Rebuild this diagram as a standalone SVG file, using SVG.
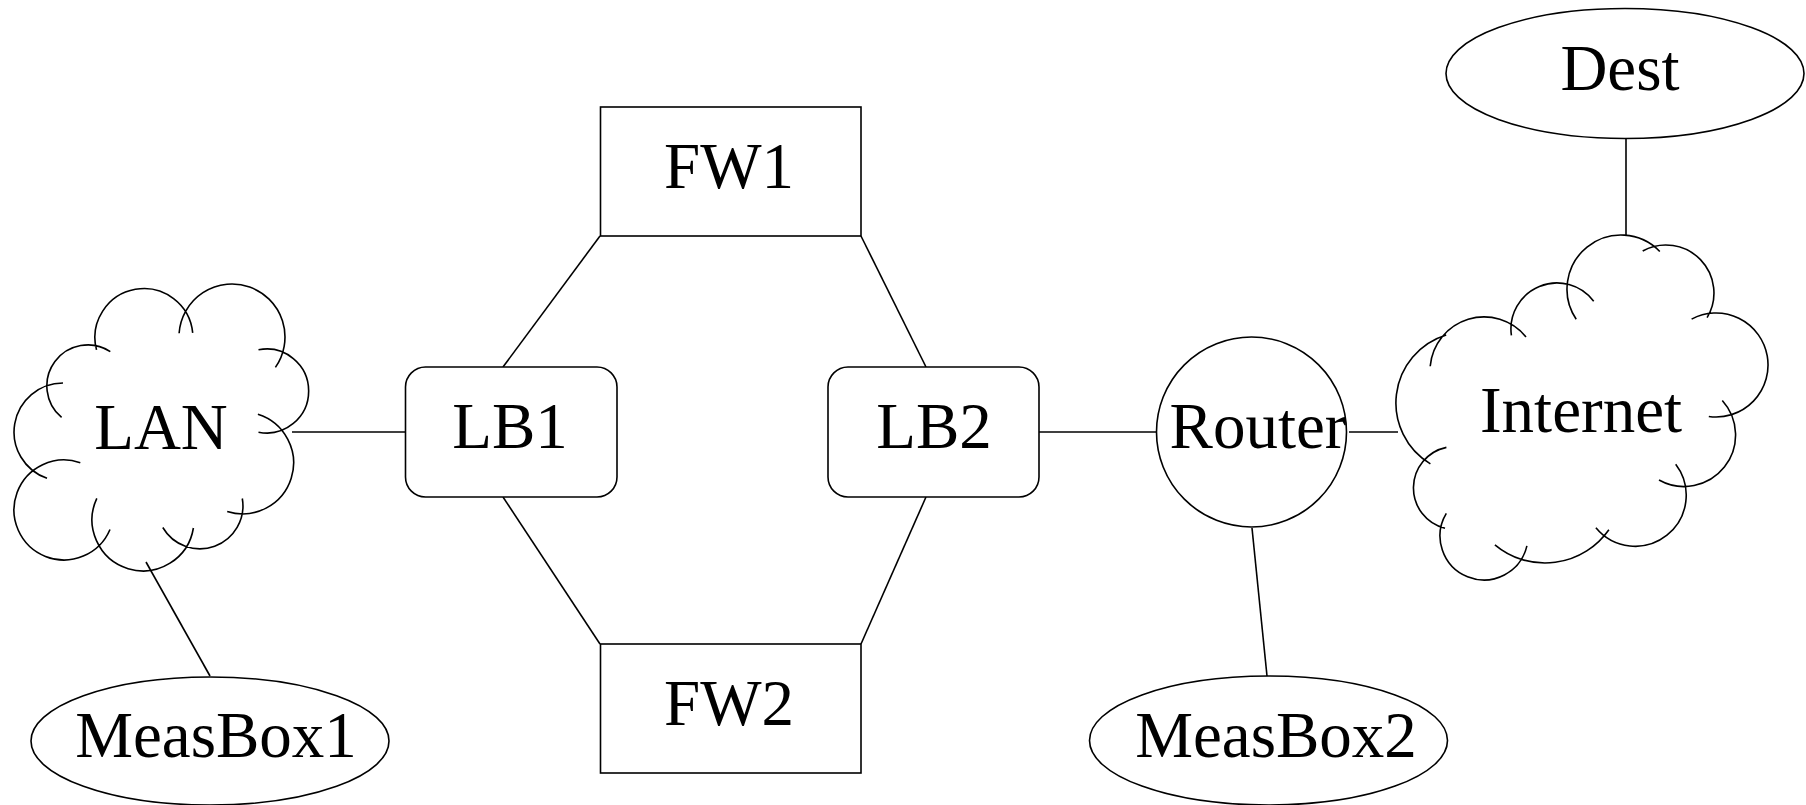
<svg xmlns="http://www.w3.org/2000/svg" width="1806" height="805" viewBox="0 0 1806 805">
<style>
.s{fill:none;stroke:#000;stroke-width:1.6}
.n{fill:#fff;stroke:#000;stroke-width:1.6}
.t{font-family:"Liberation Serif","Times New Roman",serif;font-size:65px;fill:#000;text-anchor:middle}
</style>
<rect width="1806" height="805" fill="#fff"/>
<g id="connectors" class="s">
<line x1="292" y1="432" x2="405" y2="432"/>
<line x1="503" y1="367" x2="600" y2="236"/>
<line x1="503" y1="497" x2="600" y2="644"/>
<line x1="861" y1="236" x2="926" y2="367"/>
<line x1="861" y1="644" x2="926" y2="497"/>
<line x1="1039" y1="432" x2="1157" y2="432"/>
<line x1="1349" y1="432" x2="1398" y2="432"/>
<line x1="1626" y1="139" x2="1626" y2="235"/>
<line x1="146" y1="562" x2="210" y2="676"/>
<line x1="1252" y1="528" x2="1267" y2="676"/>
</g>
<g id="LAN">
<path class="s" d="M96.5,349.9 A49,49 0 1 1 192.7,332.9 M179.1,333.3 A53,53 0 1 1 275.4,367.4 M258.5,349.8 A42,42 0 1 1 258.5,432.2 M257.9,414.2 A51,51 0 1 1 227.2,511.5 M242.3,498.5 A43,43 0 0 1 162.8,527.5 M193.4,528 A51,51 0 1 1 96.8,498.4 M110,529.5 A50,50 0 1 1 80.3,462.7 M47,478.3 A49,49 0 0 1 63,383 M61.6,417.4 A41,41 0 0 1 110.3,351.6"/>
<text class="t" x="161" y="449">LAN</text>
</g>
<g id="Internet">
<path class="s" d="M1576.2,319.2 A54,54 0 0 1 1659.8,251.5 M1642.7,251 A48,48 0 0 1 1707.1,317.7 M1691.6,319.1 A52,52 0 1 1 1708.8,416.5 M1722.3,400.5 A51.5,51.5 0 0 1 1659,480 M1675.7,464.3 A51,51 0 0 1 1595.9,527.8 M1608.9,529.7 A78,78 0 0 1 1494.9,544.8 M1526.9,545.9 A44,44 0 1 1 1446.3,513.3 M1445,528.3 A41.5,41.5 0 0 1 1446.4,447.4 M1430.4,463.9 A71,71 0 0 1 1446.2,335.1 M1430.2,366.3 A54,54 0 0 1 1526,337 M1511.4,335.4 A46,46 0 0 1 1593.7,301.3"/>
<text class="t" x="1581" y="432">Internet</text>
</g>
<g id="FW1">
<rect class="n" x="600.5" y="107" width="260.5" height="129"/>
<text class="t" x="729" y="188">FW1</text>
</g>
<g id="FW2">
<rect class="n" x="600.5" y="644" width="260.5" height="129"/>
<text class="t" x="729" y="725">FW2</text>
</g>
<g id="LB1">
<rect class="n" x="405.5" y="367" width="211.5" height="130" rx="20"/>
<text class="t" x="510" y="448">LB1</text>
</g>
<g id="LB2">
<rect class="n" x="828" y="367" width="211" height="130" rx="20"/>
<text class="t" x="934" y="448">LB2</text>
</g>
<g id="Router">
<circle class="n" cx="1251.5" cy="432" r="95"/>
<text class="t" x="1258" y="448">Router</text>
</g>
<g id="Dest">
<ellipse class="n" cx="1625" cy="73.5" rx="179" ry="65"/>
<text class="t" x="1620" y="90">Dest</text>
</g>
<g id="MeasBox1">
<ellipse class="n" cx="210" cy="741" rx="179" ry="64"/>
<text class="t" x="216" y="757">MeasBox1</text>
</g>
<g id="MeasBox2">
<ellipse class="n" cx="1268.5" cy="740.5" rx="179" ry="64.5"/>
<text class="t" x="1276" y="757">MeasBox2</text>
</g>
</svg>
